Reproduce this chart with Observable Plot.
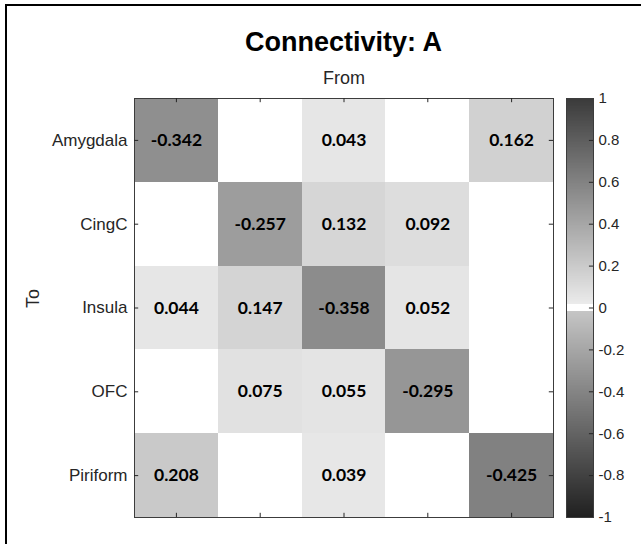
<!DOCTYPE html>
<html>
<head>
<meta charset="utf-8">
<script src="https://cdn.jsdelivr.net/npm/d3@7"></script>
<script src="https://cdn.jsdelivr.net/npm/@observablehq/plot@0.6"></script>
<style>
  html, body { margin: 0; padding: 0; background: #fff; }
  #wrap { position: relative; width: 641px; height: 544px; overflow: hidden; background: #fff; font-family: "Liberation Sans", Arial, sans-serif; }
  #frame { position: absolute; left: 5px; top: 4px; width: 700px; height: 600px; border-left: 2px solid #000; border-top: 2px solid #000; }
  #title { position: absolute; left: 134px; width: 419px; top: 27px; line-height: 30px; text-align: center; font-size: 27px; font-weight: bold; color: #000; }
  #main { position: absolute; left: 0; top: 60px; }
  #cbar { position: absolute; left: 560px; top: 60px; }
</style>
</head>
<body>
<div id="wrap">
  <div id="frame"></div>
  <div id="title">Connectivity: A</div>
  <div id="main"></div>
  <div id="cbar"></div>
</div>
<script>
// Regions (rows = "To", columns = "From")
const regions = ["Amygdala", "CingC", "Insula", "OFC", "Piriform"];
// Connectivity values, one array per "To" row; null = empty cell
const amygdala = [-0.342, null, 0.043, null, 0.162];
const cingC    = [null, -0.257, 0.132, 0.092, null];
const insula   = [0.044, 0.147, -0.358, 0.052, null];
const ofc      = [null, 0.075, 0.055, -0.295, null];
const piriform = [0.208, null, 0.039, null, -0.425];
// Colorbar tick labels
const cbarTicks = [1, 0.8, 0.6, 0.4, 0.2, 0, -0.2, -0.4, -0.6, -0.8, -1];

const matrix = [amygdala, cingC, insula, ofc, piriform];
const cells = [];
matrix.forEach((row, r) => row.forEach((v, c) => { if (v !== null) cells.push({r, c, v}); }));

// Asymmetric gray colormap (white at zero)
function grayOf(v) {
  let g;
  if (Math.abs(v) < 0.018) g = 255;
  else if (v > 0) g = 238 - 180 * v;
  else g = 200 + 168 * v;
  g = Math.round(Math.max(0, Math.min(255, g)));
  return `rgb(${g},${g},${g})`;
}
const colorScale = {type: "linear", domain: [-1, 1], interpolate: (t) => grayOf(2 * t - 1)};

const axisColor = "#262626";
const centers = d3.range(regions.length).map(i => i + 0.5);

const main = Plot.plot({
  width: 600,
  height: 484,
  marginLeft: 134,
  marginRight: 47,
  marginTop: 38,
  marginBottom: 27,
  style: {fontFamily: "'Liberation Sans', Arial, sans-serif", color: axisColor, background: "transparent"},
  x: {domain: [0, regions.length], axis: null},
  y: {domain: [0, regions.length], reverse: true},
  color: colorScale,
  marks: [
    Plot.rect(cells, {x1: d => d.c, x2: d => d.c + 1, y1: d => d.r, y2: d => d.r + 1, fill: "v", shapeRendering: "crispEdges"}),
    Plot.text(cells, {x: d => d.c + 0.5, y: d => d.r + 0.5, text: d => d.v.toFixed(3), fill: "#000", fontFamily: "Lato, 'Open Sans', sans-serif", fontWeight: "bold", fontSize: 17.5}),
    Plot.frame({stroke: "#3c3c3c", strokeWidth: 1}),
    Plot.ruleY(centers, {y: d => d, x1: 0, x2: 0.05, stroke: axisColor}),
    Plot.ruleY(centers, {y: d => d, x1: regions.length - 0.05, x2: regions.length, stroke: axisColor}),
    Plot.ruleX(centers, {x: d => d, y1: 0, y2: 0.05, stroke: axisColor}),
    Plot.ruleX(centers, {x: d => d, y1: regions.length - 0.05, y2: regions.length, stroke: axisColor}),
    Plot.axisY(centers, {anchor: "left", tickFormat: v => regions[Math.floor(v)], tickSize: 0, tickPadding: 7, fontSize: 17, label: null}),
    Plot.text(["From"], {frameAnchor: "top", dy: -27, fontSize: 18, fill: axisColor}),
    Plot.text(["To"], {frameAnchor: "left", dx: -101, rotate: -90, fontSize: 18, fill: axisColor})
  ]
});
document.getElementById("main").appendChild(main);

const step = 0.004;
const ramp = d3.range(-1, 1 - step / 2, step);
const cbar = Plot.plot({
  width: 81,
  height: 484,
  marginLeft: 6,
  marginRight: 48,
  marginTop: 38,
  marginBottom: 27,
  style: {fontFamily: "'Liberation Sans', Arial, sans-serif", color: axisColor, background: "transparent"},
  x: {domain: [0, 1], axis: null},
  y: {domain: [-1, 1]},
  color: colorScale,
  marks: [
    Plot.rect(ramp, {x1: 0, x2: 1, y1: d => d, y2: d => d + step, fill: d => d + step / 2, shapeRendering: "crispEdges"}),
    Plot.frame({stroke: "#3c3c3c", strokeWidth: 1}),
    Plot.ruleY(cbarTicks.filter(t => Math.abs(t) < 1), {y: d => d, x1: 0.85, x2: 1, stroke: axisColor}),
    Plot.axisY(cbarTicks, {anchor: "right", tickFormat: d => String(d), tickSize: 0, tickPadding: 5, fontSize: 15, label: null})
  ]
});
document.getElementById("cbar").appendChild(cbar);
</script>
</body>
</html>
